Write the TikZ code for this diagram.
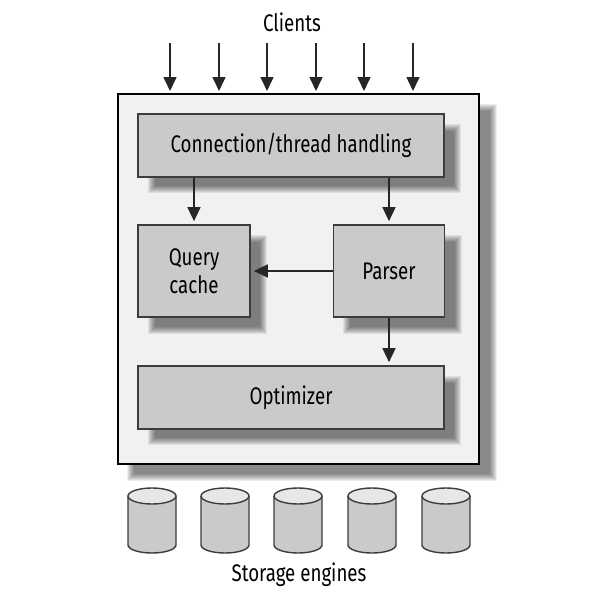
\documentclass[tikz,border=0pt]{standalone}
\usepackage{fontspec}
\setmainfont[FakeStretch=0.78]{Fira Sans}
\usetikzlibrary{arrows.meta}
\definecolor{boxgray}{HTML}{C9CACC}
\definecolor{topgray}{HTML}{E6E7E8}
\definecolor{panelgray}{HTML}{F1F1F1}
\definecolor{linegray}{HTML}{3C3C3E}
\newcommand{\softshadow}[4]{%
  \foreach \i in {0,1,2,3,4,5,6,7}
    \fill [black, opacity=0.075] (#1+\i,#2+\i) rectangle (#3-\i,#4-\i);}
\tikzset{
  panel/.style={draw=black, fill=panelgray, line width=1.5pt, rectangle, anchor=north west, inner sep=0pt, outer sep=0pt},
  block/.style={draw=linegray, fill=boxgray, line width=1.7pt, rectangle, inner sep=0pt, font=\fontsize{24}{28}\selectfont, align=center},
  disk/.style={draw=linegray, line width=1.4pt},
  label/.style={font=\fontsize{24}{28}\selectfont},
  flow/.style={draw=black!85, line width=1.6pt, -{Triangle[length=14pt,width=13pt]}, shorten >=3pt}
}
\begin{document}
\begin{tikzpicture}[x=1pt,y=-1pt]
\useasboundingbox (0,0) rectangle (602,602);

\softshadow{127}{104}{497}{481} %outer shadow
\node [panel, minimum width=361pt, minimum height=370pt] (server) at (118,94) {};

\softshadow{148}{124}{461}{193}
\softshadow{148}{235}{267}{334}
\softshadow{343}{235}{462}{334}
\softshadow{148}{376}{461}{445}

\node [block, minimum width=306pt, minimum height=63pt] (conn) at (291,145.5) {Connection/thread handling};
\node [block, minimum width=112pt, minimum height=92pt] (cache) at (194,271) {Query\\cache};
\node [block, minimum width=111pt, minimum height=92pt] (parser) at (389,271) {Parser};
\node [block, minimum width=306pt, minimum height=63pt] (optimizer) at (291,397.5) {Optimizer};

\node [label] (clients) at (292,22) {Clients};
\node [label] (storage) at (299,575) {Storage engines};

\foreach \n/\x in {a/170,b/219,c/267,d/316,e/364,f/413} {
  \coordinate (client\n) at (\x,43);
  \draw [flow] (client\n) -- (client\n |- server.north);
}

\draw [flow] (conn.south -| cache) -- (cache);
\draw [flow] (conn.south -| parser) -- (parser);
\draw [flow] (parser) -- (cache);
\draw [flow] (parser) -- (parser |- optimizer.north);

%disks
\foreach \x in {152,225,298,372,446} {
  \draw [disk, fill=boxgray] (\x-24,496) -- (\x-24,545)
    arc [start angle=180, end angle=0, x radius=24, y radius=8] -- (\x+24,496);
  \draw [disk, fill=topgray] (\x,496) ellipse [x radius=24, y radius=8];
}

\end{tikzpicture}
\end{document}
